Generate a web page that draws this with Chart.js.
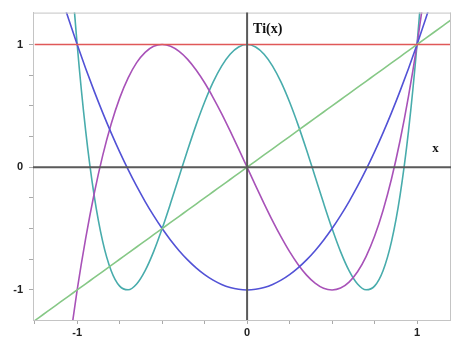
<!DOCTYPE html>
<html><head><meta charset="utf-8">
<script src="https://cdn.jsdelivr.net/npm/chart.js@4.4.1/dist/chart.umd.min.js"></script>
<style>html,body{margin:0;padding:0;background:#fff;}#wrap{width:451px;height:337px;}</style>
</head><body><div id="wrap"><canvas id="c" width="451" height="337"></canvas></div>
<script>
const xs = [-1.25,-1.2,-1.15,-1.1,-1.05,-1,-0.95,-0.9,-0.85,-0.8,-0.75,-0.7,-0.65,-0.6,-0.55,-0.5,-0.45,-0.4,-0.35,-0.3,-0.25,-0.2,-0.15,-0.1,-0.05,0,0.05,0.1,0.15,0.2,0.25,0.3,0.35,0.4,0.45,0.5,0.55,0.6,0.65,0.7,0.75,0.8,0.85,0.9,0.95,1,1.05,1.1,1.15,1.2];
const T0 = [1,1,1,1,1,1,1,1,1,1,1,1,1,1,1,1,1,1,1,1,1,1,1,1,1,1,1,1,1,1,1,1,1,1,1,1,1,1,1,1,1,1,1,1,1,1,1,1,1,1];
const T1 = [-1.25,-1.2,-1.15,-1.1,-1.05,-1,-0.95,-0.9,-0.85,-0.8,-0.75,-0.7,-0.65,-0.6,-0.55,-0.5,-0.45,-0.4,-0.35,-0.3,-0.25,-0.2,-0.15,-0.1,-0.05,0,0.05,0.1,0.15,0.2,0.25,0.3,0.35,0.4,0.45,0.5,0.55,0.6,0.65,0.7,0.75,0.8,0.85,0.9,0.95,1,1.05,1.1,1.15,1.2];
const T2 = [2.125,1.88,1.645,1.42,1.205,1,0.805,0.62,0.445,0.28,0.125,-0.02,-0.155,-0.28,-0.395,-0.5,-0.595,-0.68,-0.755,-0.82,-0.875,-0.92,-0.955,-0.98,-0.995,-1,-0.995,-0.98,-0.955,-0.92,-0.875,-0.82,-0.755,-0.68,-0.595,-0.5,-0.395,-0.28,-0.155,-0.02,0.125,0.28,0.445,0.62,0.805,1,1.205,1.42,1.645,1.88];
const T3 = [-4.063,-3.312,-2.634,-2.024,-1.481,-1,-0.580,-0.216,0.094,0.352,0.563,0.728,0.852,0.936,0.985,1,0.986,0.944,0.879,0.792,0.688,0.568,0.437,0.296,0.150,0,-0.150,-0.296,-0.437,-0.568,-0.688,-0.792,-0.879,-0.944,-0.986,-1,-0.985,-0.936,-0.852,-0.728,-0.563,-0.352,-0.094,0.216,0.580,1,1.481,2.024,2.634,3.312];
const T4 = [8.031,6.069,4.412,3.033,1.904,1,0.296,-0.231,-0.604,-0.843,-0.969,-0.999,-0.952,-0.843,-0.688,-0.5,-0.292,-0.075,0.140,0.345,0.531,0.693,0.824,0.921,0.980,1,0.980,0.921,0.824,0.693,0.531,0.345,0.140,-0.075,-0.292,-0.5,-0.688,-0.843,-0.952,-0.999,-0.969,-0.843,-0.604,-0.231,0.296,1,1.904,3.033,4.412,6.069];
const xTicks = [-1.25,-1,-0.75,-0.5,-0.25,0,0.25,0.5,0.75,1];
const yTicks = [-1,-0.75,-0.5,-0.25,0,0.25,0.5,0.75,1];
const xLabels = {"-1":"-1","0":"0","1":"1"};
const yLabels = {"-1":"-1","0":"0","1":"1"};
const axisTitleY = "Ti(x)";
const axisTitleX = "x";

const pts = arr => xs.map((x,i)=>({x:x,y:arr[i]}));
const series = [
  {name:"T0", data:T0, color:"#e05858"},
  {name:"T1", data:T1, color:"#86c886"},
  {name:"T2", data:T2, color:"#5252d6"},
  {name:"T3", data:T3, color:"#a852b8"},
  {name:"T4", data:T4, color:"#48acac"}
];

const overlay = {
  id:'overlay',
  afterDatasetsDraw(chart){
    const {ctx, chartArea:a, scales:{x,y}} = chart;
    ctx.save();
    ctx.strokeStyle = '#c4c4c4'; ctx.lineWidth = 1;
    ctx.beginPath();
    ctx.moveTo(a.left, a.top+0.5); ctx.lineTo(a.right, a.top+0.5);
    ctx.moveTo(a.right-0.5, a.top); ctx.lineTo(a.right-0.5, a.bottom);
    ctx.stroke();
    ctx.strokeStyle = '#5a5a5a'; ctx.lineWidth = 2;
    const x0 = x.getPixelForValue(0), y0 = y.getPixelForValue(0);
    ctx.beginPath();
    ctx.moveTo(x0, a.top); ctx.lineTo(x0, a.bottom);
    ctx.moveTo(a.left, y0); ctx.lineTo(a.right, y0);
    ctx.stroke();
    ctx.fillStyle = '#111';
    ctx.font = 'bold 14px "Liberation Serif", "DejaVu Serif", serif';
    ctx.textBaseline = 'middle'; ctx.textAlign = 'left';
    ctx.fillText(axisTitleY, x0 + 6, y.getPixelForValue(1.12));
    ctx.font = 'bold 13px "Liberation Serif", "DejaVu Serif", serif';
    ctx.fillText(axisTitleX, x.getPixelForValue(1.09), y.getPixelForValue(0.15));
    ctx.restore();
  }
};

new Chart(document.getElementById('c'), {
  type:'line',
  data:{datasets: series.map(s=>({label:s.name, data:pts(s.data), borderColor:s.color, borderWidth:1.6, pointRadius:0, fill:false, cubicInterpolationMode:'monotone'}))},
  options:{
    responsive:false, animation:false, devicePixelRatio:1,
    layout:{padding:{top:8,right:0,left:0,bottom:0}},
    plugins:{legend:{display:false}, tooltip:{enabled:false}},
    scales:{
      x:{type:'linear', min:-1.26, max:1.2,
        afterBuildTicks:s=>{s.ticks = xTicks.map(v=>({value:v}));},
        afterFit:s=>{s.height = 17;},
        ticks:{autoSkip:false, maxRotation:0, padding:2, color:'#222', font:{family:'"Liberation Sans", Arial, sans-serif', size:11, weight:'bold'}, callback:v=>xLabels[String(v)]||''},
        grid:{drawOnChartArea:false, tickLength:4, tickColor:'#aaaaaa'},
        border:{display:true, color:'#c4c4c4', width:1}
      },
      y:{type:'linear', min:-1.245, max:1.26,
        afterBuildTicks:s=>{s.ticks = yTicks.map(v=>({value:v}));},
        afterFit:s=>{s.width = 33;},
        ticks:{autoSkip:false, padding:6, color:'#222', font:{family:'"Liberation Sans", Arial, sans-serif', size:11, weight:'bold'}, callback:v=>yLabels[String(v)]||''},
        grid:{drawOnChartArea:false, tickLength:4, tickColor:'#aaaaaa'},
        border:{display:true, color:'#c4c4c4', width:1}
      }
    }
  },
  plugins:[overlay]
});
</script></body></html>
